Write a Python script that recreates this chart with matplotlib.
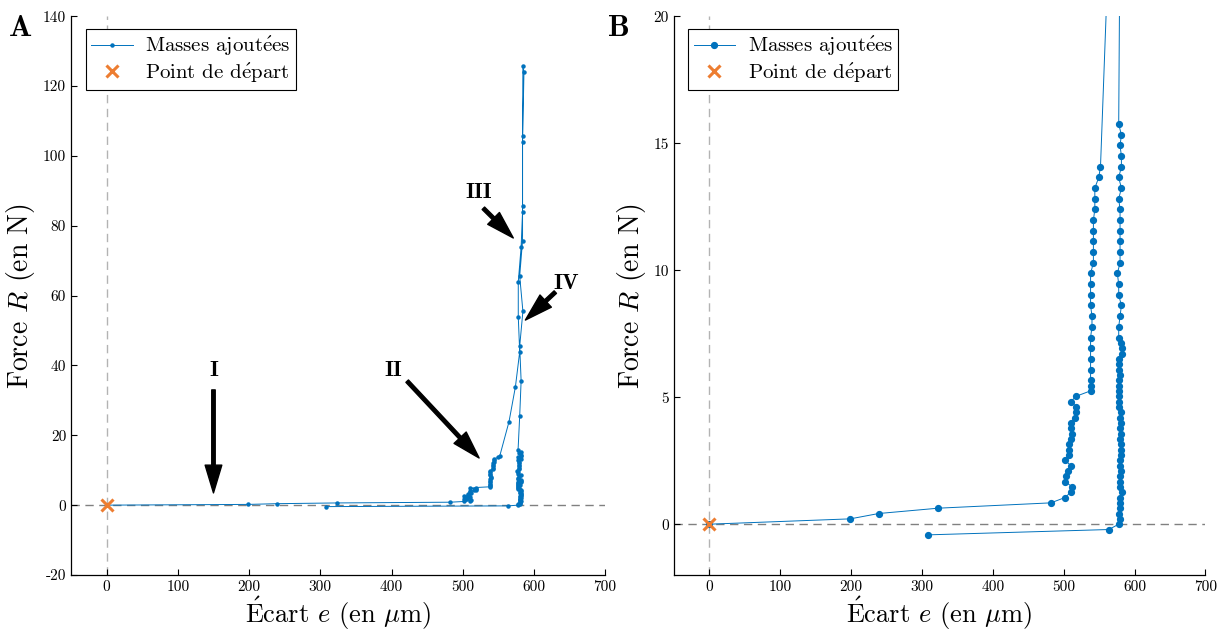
import matplotlib
matplotlib.use("Agg")
import matplotlib.pyplot as plt

plt.rcParams["font.family"] = ["cmr10", "DejaVu Serif"]
plt.rcParams["mathtext.fontset"] = "cm"
plt.rcParams["axes.unicode_minus"] = False
plt.rcParams["axes.formatter.use_mathtext"] = False

# ==========================
# données : écart (µm) et force (N), dans l'ordre des mesures
# ==========================

ecart_charge = [
    0, 199, 239, 323, 482, 502, 510, 512, 502, 504, 506.5, 510, 502, 508, 508,
    508, 510, 512, 510, 510, 516, 518, 518, 510, 518, 538, 538, 538, 538, 538,
    538, 538, 540, 540, 538, 538, 538, 538, 542, 542, 542, 542, 542, 544, 544,
    544, 549.5, 552, 565, 574, 580, 578, 578, 582, 584, 584, 586, 584.5,
]
force_charge = [
    0, 0.21, 0.42, 0.63, 0.84, 1.05, 1.26, 1.47, 1.68, 1.89, 2.10, 2.31, 2.52,
    2.73, 2.94, 3.15, 3.36, 3.57, 3.78, 3.99, 4.20, 4.41, 4.62, 4.83, 5.04,
    5.25, 5.46, 5.67, 6.09, 6.51, 6.93, 7.35, 7.77, 8.19, 8.61, 9.03, 9.45,
    9.87, 10.29, 10.71, 11.13, 11.55, 11.97, 12.39, 12.81, 13.23, 13.65, 14.07,
    23.9, 33.9, 43.9, 53.9, 63.9, 73.9, 84.0, 104.0, 124.1, 125.7,
]

ecart_decharge = [
    584, 584, 584, 580, 584.5, 580, 582, 580, 577.7, 581.5, 579.6, 581.5,
    581.5, 577.7, 581.5, 577.7, 579.6, 579.6, 579.6, 579.6, 579.6, 579.6,
    575.8, 577.7, 577.7, 581.5, 579.6, 577.7, 577.7, 581.5, 582.4, 582.4,
    577.7, 577.7, 577.7, 580, 577.7, 577.7, 577.7, 577.7, 578.5, 577.7, 581.5,
    580, 581.5, 580, 581.5, 580, 581.5, 581.5, 581.5, 580, 580, 581.5, 580,
    580, 580, 582.4, 580, 580, 580, 577.7, 580, 577.7, 563.7, 308.5,
]
force_decharge = [
    105.6, 85.6, 75.7, 65.6, 55.5, 45.5, 35.6, 25.5, 15.75, 15.33, 14.91,
    14.49, 14.07, 13.65, 13.23, 12.81, 12.39, 11.97, 11.55, 11.13, 10.71,
    10.29, 9.87, 9.45, 9.03, 8.61, 8.19, 7.77, 7.35, 7.14, 6.93, 6.72, 6.51,
    6.30, 6.09, 5.88, 5.67, 5.46, 5.25, 5.04, 4.83, 4.62, 4.41, 4.20, 3.99,
    3.78, 3.57, 3.36, 3.15, 2.94, 2.73, 2.52, 2.31, 2.10, 1.89, 1.68, 1.47,
    1.26, 1.05, 0.84, 0.63, 0.42, 0.21, 0.00, -0.21, -0.42,
]

ecart = ecart_charge + ecart_decharge
force = force_charge + force_decharge

depart = (0, 0)

# annotations du panneau A : (texte, position du texte, départ flèche, pointe)
phases = [
    ("I", (150, 38.5), (150, 33), (150, 3.5)),
    ("II", (402, 38.5), (422, 35.5), (523, 13.5)),
    ("III", (523, 89.5), (529, 85), (571, 76.5)),
    ("IV", (645, 63.5), (630, 61), (588, 53)),
]

bleu = "#0072BD"
orange = "#ED7D31"

fig = plt.figure(figsize=(12.25, 6.35), dpi=100)
axA = fig.add_axes([0.058, 0.0945, 0.436, 0.880])
axB = fig.add_axes([0.550, 0.0945, 0.434, 0.880])


def habiller(ax, ylim, yticks, ms, marker):
    ax.axhline(0, color="0.5", ls=(0, (6, 4)), lw=1.0, zorder=1)
    ax.axvline(0, color="0.7", ls=(0, (6, 4)), lw=1.0, zorder=1)
    ax.plot(ecart, force, "-", color=bleu, lw=0.7, marker=marker,
            ms=ms, mec=bleu, mfc=bleu,
            label=r"Masses ajout$\acute{\mathrm{e}}$es", zorder=3)
    ax.plot(*depart, "x", color=orange, ms=8, mew=2.2, ls="none",
            label=r"Point de d$\acute{\mathrm{e}}$part", zorder=4)
    ax.set_xlim(-50, 700)
    ax.set_ylim(*ylim)
    ax.set_xticks(range(0, 701, 100))
    ax.set_yticks(yticks)
    for s in ["top", "right"]:
        ax.spines[s].set_visible(False)
    for s in ["left", "bottom"]:
        ax.spines[s].set_linewidth(0.9)
    ax.tick_params(direction="in", length=4, width=0.8, labelsize=11)
    ax.set_xlabel(r"$\acute{\mathrm{E}}$cart $e$ (en $\mu$m)", fontsize=19,
                  labelpad=1)
    ax.set_ylabel(r"Force $R$ (en N)", fontsize=20, labelpad=4)
    leg = ax.legend(loc="upper left", fontsize=15, fancybox=False,
                    framealpha=1, edgecolor="k", borderpad=0.25,
                    handlelength=2.0, handletextpad=0.6, labelspacing=0.15,
                    bbox_to_anchor=(0.008, 0.995))
    leg.get_frame().set_linewidth(0.8)


habiller(axA, (-20, 140), range(-20, 141, 20), 2.2, "o")
habiller(axB, (-2, 20), range(0, 21, 5), 4.2, "o")

for txt, pos, tail, tip in phases:
    axA.text(*pos, txt, fontsize=16, family="cmb10", ha="center",
             va="center")
    axA.annotate("", xy=tip, xytext=tail,
                 arrowprops=dict(facecolor="black", edgecolor="black",
                                 width=2.5, headwidth=12, headlength=20,
                                 shrink=0))

fig.text(0.017, 0.955, "A", fontsize=22, family="cmb10", ha="center",
         va="center")
fig.text(0.505, 0.955, "B", fontsize=22, family="cmb10", ha="center",
         va="center")

fig.savefig("out.png", dpi=100)
